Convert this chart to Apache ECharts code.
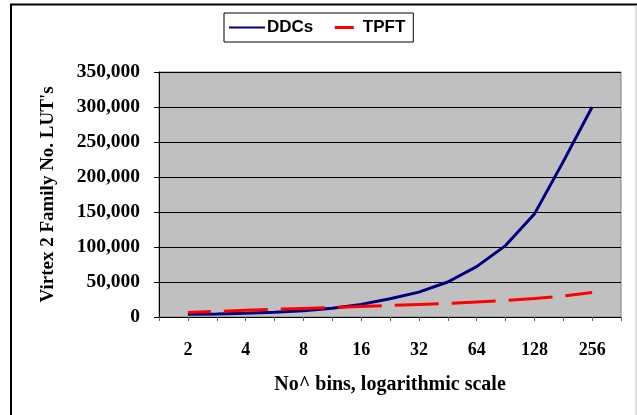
<!DOCTYPE html>
<html><head><meta charset="utf-8">
<script src="https://cdn.jsdelivr.net/npm/echarts@6/dist/echarts.min.js"></script>
<style>html,body{margin:0;padding:0;background:#fff}#c{width:637px;height:415px}</style>
</head><body><div id="c"></div>
<script>
// x categories: half-octave steps, only octaves labelled; padding slots at both ends
var categories = ['', '2', '', '4', '', '8', '', '16', '', '32', '', '64', '', '128', '', '256', ''];
var ddcs = [null, 4000, 4300, 5200, 6700, 9000, 12500, 18000, 26000, 35500, 50000, 72000, 102000, 147000, 222000, 300000, null];
var tpft = [null, 6500, 8000, 9500, 11000, 12300, 13500, 15000, 16500, 18000, 19500, 21500, 23500, 26500, 30000, 35000, null];
var yTicks = [0, 50000, 100000, 150000, 200000, 250000, 300000, 350000];
var seriesNames = ['DDCs', 'TPFT'];
var xTitle = 'No^ bins, logarithmic scale';
var yTitle = "Virtex 2 Family No. LUT's";

var chart = echarts.init(document.getElementById('c'), null, {renderer: 'canvas'});
var serif = '"Liberation Serif", "Times New Roman", serif';
chart.setOption({
  animation: false,
  backgroundColor: '#ffffff',
  grid: {left: 159, top: 72, right: 16, bottom: 98, show: true, backgroundColor: '#C0C0C0', borderColor: '#808080', borderWidth: 1},
  legend: {
    data: [
      {name: seriesNames[0]},
      {name: seriesNames[1], lineStyle: {type: [19, 12], width: 3, color: '#FF0000'}}
    ],
    left: 224, top: 13, width: 189, height: 30,
    padding: [6, 8, 6, 4], itemGap: 10, itemWidth: 36, itemHeight: 14,
    backgroundColor: '#fff', borderColor: '#000', borderWidth: 1, borderRadius: 0,
    itemStyle: {opacity: 0},
    textStyle: {fontFamily: '"Liberation Sans", Arial, sans-serif', fontWeight: 'bold', fontSize: 17, color: '#000', padding: [0, 0, 0, -3]}
  },
  xAxis: {
    type: 'category', data: categories, boundaryGap: false,
    axisLine: {lineStyle: {color: '#000', width: 1}},
    axisTick: {show: true, interval: 0, length: 4, lineStyle: {color: '#666'}},
    axisLabel: {interval: 0, margin: 24, fontFamily: serif, fontWeight: 'bold', fontSize: 18, color: '#000'},
    splitLine: {show: false},
    name: xTitle, nameLocation: 'middle', nameGap: 58,
    nameTextStyle: {fontFamily: serif, fontWeight: 'bold', fontSize: 20, color: '#000'}
  },
  yAxis: {
    type: 'value', min: 0, max: 350000, interval: 50000,
    axisLine: {show: true, lineStyle: {color: '#000', width: 1}},
    axisTick: {show: true, length: 5, lineStyle: {color: '#000'}},
    axisLabel: {margin: 19, fontFamily: serif, fontWeight: 'bold', fontSize: 19.5, color: '#000',
      formatter: function (v) { return v.toLocaleString('en-US'); }},
    splitLine: {show: true, lineStyle: {color: '#000', width: 1}},
    name: yTitle, nameLocation: 'middle', nameGap: 101, nameRotate: 90,
    nameTextStyle: {fontFamily: serif, fontWeight: 'bold', fontSize: 19, color: '#000'}
  },
  series: [
    {name: seriesNames[0], type: 'line', data: ddcs, showSymbol: false, symbol: 'none', smooth: false, connectNulls: false,
     itemStyle: {color: '#000080'}, lineStyle: {color: '#000080', width: 3}},
    {name: seriesNames[1], type: 'line', data: tpft, showSymbol: false, symbol: 'none', smooth: false,
     itemStyle: {color: '#FF0000'}, lineStyle: {color: '#FF0000', width: 3, type: [44, 13], dashOffset: 21}}
  ],
  graphic: [
    {type: 'line', shape: {x1: 10, y1: 4.5, x2: 637, y2: 4.5}, style: {stroke: '#000', lineWidth: 2}, silent: true},
    {type: 'line', shape: {x1: 11, y1: 4, x2: 11, y2: 415}, style: {stroke: '#000', lineWidth: 2}, silent: true},
    {type: 'line', shape: {x1: 636, y1: 5, x2: 636, y2: 415}, style: {stroke: '#bbb', lineWidth: 1}, silent: true}
  ]
});
</script></body></html>
